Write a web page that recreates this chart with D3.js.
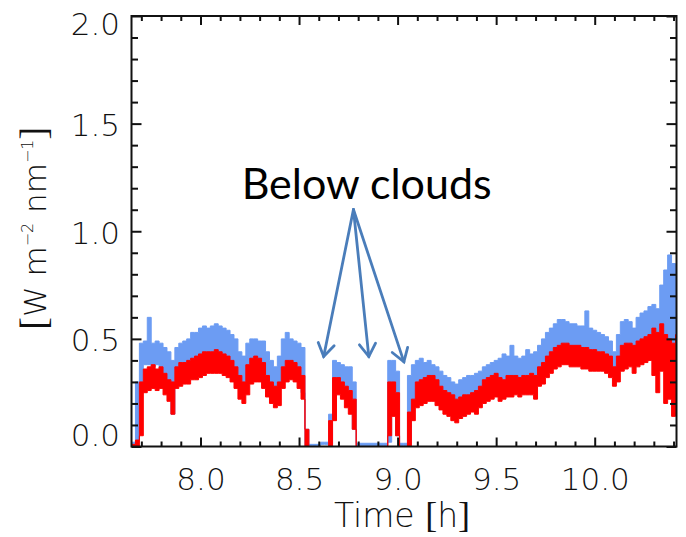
<!DOCTYPE html>
<html>
<head>
<meta charset="utf-8">
<script src="https://cdn.jsdelivr.net/npm/d3@7"></script>
<style>
  body { margin: 0; background: #fff; }
  svg { display: block; }
</style>
</head>
<body>
<div id="chart"></div>
<script>
// time of each 0.02 h bin [h]
const times = [7.65, 7.67, 7.69, 7.71, 7.73, 7.75, 7.77, 7.79, 7.81, 7.83,
  7.85, 7.87, 7.89, 7.91, 7.93, 7.95, 7.97, 7.99, 8.01, 8.03,
  8.05, 8.07, 8.09, 8.11, 8.13, 8.15, 8.17, 8.19, 8.21, 8.23,
  8.25, 8.27, 8.29, 8.31, 8.33, 8.35, 8.37, 8.39, 8.41, 8.43,
  8.45, 8.47, 8.49, 8.51, 8.53, 8.55, 8.57, 8.59, 8.61, 8.63,
  8.65, 8.67, 8.69, 8.71, 8.73, 8.75, 8.77, 8.79, 8.81, 8.83,
  8.85, 8.87, 8.89, 8.91, 8.93, 8.95, 8.97, 8.99, 9.01, 9.03,
  9.05, 9.07, 9.09, 9.11, 9.13, 9.15, 9.17, 9.19, 9.21, 9.23,
  9.25, 9.27, 9.29, 9.31, 9.33, 9.35, 9.37, 9.39, 9.41, 9.43,
  9.45, 9.47, 9.49, 9.51, 9.53, 9.55, 9.57, 9.59, 9.61, 9.63,
  9.65, 9.67, 9.69, 9.71, 9.73, 9.75, 9.77, 9.79, 9.81, 9.83,
  9.85, 9.87, 9.89, 9.91, 9.93, 9.95, 9.97, 9.99, 10.01, 10.03,
  10.05, 10.07, 10.09, 10.11, 10.13, 10.15, 10.17, 10.19, 10.21, 10.23,
  10.25, 10.27, 10.29, 10.31, 10.33, 10.35, 10.37, 10.39, 10.41];

// blue channel, upper / lower edge of the noisy trace in each bin [W m-2 nm-1]
const blueHi = [0.02, 0.30, 0.48, 0.49, 0.60, 0.48, 0.49, 0.48, 0.46, 0.44,
  0.40, 0.46, 0.48, 0.49, 0.50, 0.53, 0.53, 0.55, 0.56, 0.55,
  0.56, 0.57, 0.56, 0.55, 0.54, 0.52, 0.50, 0.44, 0.42, 0.48,
  0.50, 0.50, 0.49, 0.49, 0.44, 0.40, 0.37, 0.42, 0.50, 0.53,
  0.50, 0.49, 0.48, 0.46, 0.08, 0.01, 0.01, 0.01, 0.02, 0.02,
  0.15, 0.40, 0.39, 0.38, 0.37, 0.37, 0.30, 0.015, 0.015, 0.015,
  0.015, 0.015, 0.015, 0.015, 0.015, 0.40, 0.40, 0.35, 0.015, 0.015,
  0.33, 0.38, 0.40, 0.41, 0.39, 0.40, 0.38, 0.37, 0.35, 0.33,
  0.32, 0.30, 0.29, 0.31, 0.32, 0.33, 0.33, 0.34, 0.35, 0.37,
  0.38, 0.39, 0.40, 0.41, 0.43, 0.42, 0.47, 0.42, 0.41, 0.42,
  0.45, 0.43, 0.44, 0.47, 0.50, 0.53, 0.55, 0.57, 0.59, 0.59,
  0.58, 0.57, 0.57, 0.56, 0.56, 0.63, 0.55, 0.54, 0.53, 0.52,
  0.51, 0.49, 0.44, 0.52, 0.58, 0.59, 0.58, 0.55, 0.60, 0.62,
  0.63, 0.65, 0.66, 0.64, 0.75, 0.82, 0.89, 0.85, 0.62];
const blueLo = [0.00, 0.02, 0.25, 0.38, 0.38, 0.37, 0.38, 0.36, 0.33, 0.30,
  0.15, 0.36, 0.37, 0.38, 0.38, 0.39, 0.40, 0.41, 0.42, 0.42,
  0.42, 0.43, 0.42, 0.41, 0.40, 0.39, 0.36, 0.30, 0.28, 0.33,
  0.38, 0.38, 0.38, 0.36, 0.31, 0.28, 0.26, 0.28, 0.35, 0.38,
  0.38, 0.36, 0.33, 0.25, 0.00, 0.005, 0.005, 0.005, 0.01, 0.01,
  0.01, 0.14, 0.30, 0.28, 0.27, 0.22, 0.08, 0.005, 0.005, 0.005,
  0.005, 0.005, 0.005, 0.005, 0.005, 0.02, 0.22, 0.05, 0.005, 0.005,
  0.01, 0.20, 0.28, 0.29, 0.28, 0.28, 0.27, 0.25, 0.24, 0.22,
  0.20, 0.18, 0.17, 0.19, 0.20, 0.21, 0.21, 0.22, 0.24, 0.26,
  0.27, 0.28, 0.28, 0.27, 0.28, 0.29, 0.29, 0.30, 0.29, 0.30,
  0.30, 0.30, 0.31, 0.34, 0.37, 0.39, 0.41, 0.43, 0.44, 0.45,
  0.45, 0.44, 0.44, 0.43, 0.43, 0.43, 0.42, 0.41, 0.40, 0.40,
  0.39, 0.36, 0.34, 0.38, 0.43, 0.44, 0.43, 0.40, 0.44, 0.46,
  0.47, 0.48, 0.46, 0.40, 0.45, 0.40, 0.35, 0.30, 0.45];

// red channel
const redHi = [0.01, 0.03, 0.30, 0.36, 0.37, 0.38, 0.36, 0.37, 0.34, 0.31,
  0.30, 0.37, 0.39, 0.39, 0.40, 0.41, 0.42, 0.43, 0.44, 0.44,
  0.44, 0.45, 0.44, 0.43, 0.42, 0.40, 0.37, 0.33, 0.30, 0.38,
  0.41, 0.42, 0.41, 0.39, 0.33, 0.30, 0.28, 0.30, 0.37, 0.40,
  0.40, 0.39, 0.37, 0.33, 0.08, 0.00, 0.00, 0.00, 0.00, 0.00,
  0.12, 0.32, 0.32, 0.30, 0.28, 0.26, 0.22, 0.00, 0.00, 0.00,
  0.00, 0.00, 0.00, 0.00, 0.00, 0.30, 0.30, 0.25, 0.00, 0.00,
  0.16, 0.22, 0.30, 0.31, 0.32, 0.33, 0.33, 0.31, 0.28, 0.26,
  0.25, 0.24, 0.22, 0.23, 0.24, 0.24, 0.25, 0.26, 0.28, 0.31,
  0.32, 0.33, 0.34, 0.32, 0.31, 0.33, 0.33, 0.33, 0.32, 0.33,
  0.33, 0.34, 0.33, 0.37, 0.39, 0.42, 0.44, 0.46, 0.47, 0.48,
  0.48, 0.47, 0.47, 0.47, 0.46, 0.46, 0.45, 0.45, 0.44, 0.44,
  0.43, 0.42, 0.37, 0.42, 0.47, 0.48, 0.48, 0.47, 0.49, 0.50,
  0.51, 0.52, 0.55, 0.53, 0.57, 0.52, 0.50, 0.48, 0.52];
const redLo = [0.00, 0.00, 0.05, 0.25, 0.26, 0.27, 0.26, 0.27, 0.24, 0.21,
  0.15, 0.27, 0.28, 0.29, 0.29, 0.31, 0.31, 0.32, 0.33, 0.34,
  0.34, 0.34, 0.34, 0.33, 0.32, 0.30, 0.27, 0.22, 0.20, 0.24,
  0.29, 0.30, 0.30, 0.27, 0.23, 0.20, 0.18, 0.19, 0.27, 0.30,
  0.31, 0.30, 0.27, 0.22, 0.00, 0.00, 0.00, 0.00, 0.00, 0.00,
  0.00, 0.12, 0.24, 0.22, 0.18, 0.15, 0.08, 0.00, 0.00, 0.00,
  0.00, 0.00, 0.00, 0.00, 0.00, 0.05, 0.14, 0.05, 0.00, 0.00,
  0.00, 0.12, 0.18, 0.19, 0.20, 0.21, 0.21, 0.19, 0.17, 0.15,
  0.14, 0.12, 0.11, 0.13, 0.14, 0.15, 0.16, 0.15, 0.18, 0.20,
  0.21, 0.22, 0.23, 0.21, 0.22, 0.23, 0.23, 0.24, 0.23, 0.24,
  0.24, 0.24, 0.22, 0.28, 0.29, 0.32, 0.34, 0.36, 0.37, 0.38,
  0.38, 0.37, 0.37, 0.37, 0.36, 0.36, 0.35, 0.35, 0.35, 0.35,
  0.34, 0.32, 0.28, 0.30, 0.35, 0.36, 0.37, 0.34, 0.37, 0.38,
  0.39, 0.40, 0.33, 0.25, 0.35, 0.20, 0.22, 0.14, 0.30];

const xTicks = [8.0, 8.5, 9.0, 9.5, 10.0];
const xMinor = [7.7, 7.8, 7.9, 8.1, 8.2, 8.3, 8.4, 8.6, 8.7, 8.8, 8.9, 9.1,
  9.2, 9.3, 9.4, 9.6, 9.7, 9.8, 9.9, 10.1, 10.2, 10.3, 10.4];
const yTicks = [0.0, 0.5, 1.0, 1.5, 2.0];
const yMinor = [0.1, 0.2, 0.3, 0.4, 0.6, 0.7, 0.8, 0.9, 1.1, 1.2, 1.3, 1.4,
  1.6, 1.7, 1.8, 1.9];

// annotation: label and arrows in data units (time, value)
const noteText = "Below clouds";
const notePos = [8.843, 1.148];
const arrowFrom = [8.776, 1.101];
const arrowTips = [[8.625, 0.418], [8.854, 0.418], [9.032, 0.393]];

const width = 686, height = 537;
const margin = {top: 16, right: 9.5, bottom: 90.5, left: 131.5};
const tickFont = "'DejaVu Sans', sans-serif";
const bracketFont = "'Liberation Serif', serif";

let svg = d3.select("#chart")
    .append("svg")
    .attr("width", width)
    .attr("height", height);

svg.append("rect").attr("width", width).attr("height", height).attr("fill", "#fff");

let x = d3.scaleLinear()
    .domain([7.65, 10.415])
    .range([margin.left, width - margin.right]);

let y = d3.scaleLinear()
    .domain([0, 2])
    .range([height - margin.bottom, margin.top]);

svg.append("clipPath").attr("id", "plotclip")
    .append("rect")
    .attr("x", margin.left).attr("y", margin.top)
    .attr("width", width - margin.left - margin.right)
    .attr("height", height - margin.top - margin.bottom);

// noisy traces drawn as the band between the lower and upper edge of every bin
function band(hi, lo) {
    return d3.area()
        .x(i => x(times[i]))
        .y0(i => y(lo[i]))
        .y1(i => y(hi[i]))
        .curve(d3.curveStepAfter)(d3.range(times.length));
}

let plot = svg.append("g").attr("clip-path", "url(#plotclip)");

plot.append("path")
    .attr("d", band(blueHi, blueLo))
    .attr("fill", "#6c9cf3")
    .attr("stroke", "#6c9cf3")
    .attr("stroke-width", 1);

plot.append("path")
    .attr("d", band(redHi, redLo))
    .attr("fill", "#ff0000")
    .attr("stroke", "#ff0000")
    .attr("stroke-width", 1);

// axes, ticks pointing into the plot on all four sides
function styleAxis(g) {
    g.select(".domain").remove();
    g.selectAll(".tick line").attr("stroke", "#111").attr("stroke-width", 2);
}

let xb = height - margin.bottom, yt = margin.top;
let xl = margin.left, xr = width - margin.right;

svg.append("g").attr("transform", `translate(0, ${xb})`)
    .call(d3.axisBottom(x).tickValues(xMinor).tickSize(-5).tickFormat(""))
    .call(styleAxis);
svg.append("g").attr("transform", `translate(0, ${yt})`)
    .call(d3.axisTop(x).tickValues(xMinor).tickSize(-5).tickFormat(""))
    .call(styleAxis);
svg.append("g").attr("transform", `translate(0, ${yt})`)
    .call(d3.axisTop(x).tickValues(xTicks).tickSize(-9).tickFormat(""))
    .call(styleAxis);
svg.append("g").attr("transform", `translate(${xl}, 0)`)
    .call(d3.axisLeft(y).tickValues(yMinor).tickSize(-6.5).tickFormat(""))
    .call(styleAxis);
svg.append("g").attr("transform", `translate(${xr}, 0)`)
    .call(d3.axisRight(y).tickValues(yMinor).tickSize(-6.5).tickFormat(""))
    .call(styleAxis);
svg.append("g").attr("transform", `translate(${xr}, 0)`)
    .call(d3.axisRight(y).tickValues(yTicks).tickSize(-10).tickFormat(""))
    .call(styleAxis);

let xAxis = svg.append("g").attr("transform", `translate(0, ${xb})`)
    .call(d3.axisBottom(x).tickValues(xTicks).tickSize(-9).tickPadding(21)
        .tickFormat(d3.format(".1f")))
    .call(styleAxis);

let yAxis = svg.append("g").attr("transform", `translate(${xl}, 0)`)
    .call(d3.axisLeft(y).tickValues(yTicks).tickSize(-10).tickPadding(11.5)
        .tickFormat(d3.format(".1f")))
    .call(styleAxis);

[xAxis, yAxis].forEach(function(g) {
    g.selectAll("text")
        .attr("fill", "#111")
        .style("font-family", tickFont)
        .style("font-weight", 200)
        .style("font-size", "31px");
});
// end labels of the value axis sit inside the frame
yAxis.selectAll(".tick text")
    .attr("dy", d => d === 2 ? "0.6em" : d === 0 ? "-0.02em" : "0.38em");

// frame
svg.append("rect")
    .attr("x", xl).attr("y", yt)
    .attr("width", xr - xl).attr("height", xb - yt)
    .attr("fill", "none")
    .attr("stroke", "#111")
    .attr("stroke-width", 2);

// x axis title
let xt = svg.append("text")
    .attr("x", (xl + xr) / 2 - 2)
    .attr("y", 527)
    .attr("text-anchor", "middle")
    .attr("fill", "#111")
    .style("font-family", tickFont)
    .style("font-weight", 200)
    .style("font-size", "33px");
xt.append("tspan").text("Time ");
xt.append("tspan").style("font-family", bracketFont).style("font-size", "36px").text("[");
xt.append("tspan").text("h");
xt.append("tspan").style("font-family", bracketFont).style("font-size", "36px").text("]");

// y axis title (superscript shifts in px so they cancel out)
let ytl = svg.append("text")
    .attr("transform", `translate(46, ${(yt + xb) / 2 - 3}) rotate(-90)`)
    .attr("text-anchor", "middle")
    .attr("fill", "#111")
    .style("font-family", tickFont)
    .style("font-weight", 200)
    .style("font-size", "31px");
ytl.append("tspan").style("font-family", bracketFont).style("font-size", "38px").text("[");
ytl.append("tspan").text("W m");
ytl.append("tspan").attr("dy", -13).style("font-size", "16px").text("\u22122");
ytl.append("tspan").attr("dy", 13).text(" nm");
ytl.append("tspan").attr("dy", -13).style("font-size", "16px").text("\u22121");
ytl.append("tspan").attr("dy", 13).style("font-family", bracketFont).style("font-size", "38px").text("]");

// annotation
svg.append("text")
    .attr("x", x(notePos[0]))
    .attr("y", y(notePos[1]))
    .attr("text-anchor", "middle")
    .attr("fill", "#000")
    .style("font-family", "Lato, 'Open Sans', sans-serif")
    .style("font-size", "43px")
    .text(noteText);

const arrowColor = "#4a7dba";
let arrows = svg.append("g")
    .attr("stroke", arrowColor)
    .attr("stroke-width", 2.8)
    .attr("fill", "none")
    .attr("stroke-linecap", "round");

arrowTips.forEach(function(tip) {
    let x0 = x(arrowFrom[0]), y0 = y(arrowFrom[1]);
    let x1 = x(tip[0]), y1 = y(tip[1]);
    let ang = Math.atan2(y1 - y0, x1 - x0);
    let head = 15, spread = Math.PI / 5.5;
    arrows.append("line")
        .attr("x1", x0).attr("y1", y0)
        .attr("x2", x1).attr("y2", y1);
    arrows.append("path")
        .attr("stroke-linejoin", "miter")
        .attr("d", d3.line()([
            [x1 - head * Math.cos(ang - spread), y1 - head * Math.sin(ang - spread)],
            [x1, y1],
            [x1 - head * Math.cos(ang + spread), y1 - head * Math.sin(ang + spread)]
        ]));
});
</script>
</body>
</html>
